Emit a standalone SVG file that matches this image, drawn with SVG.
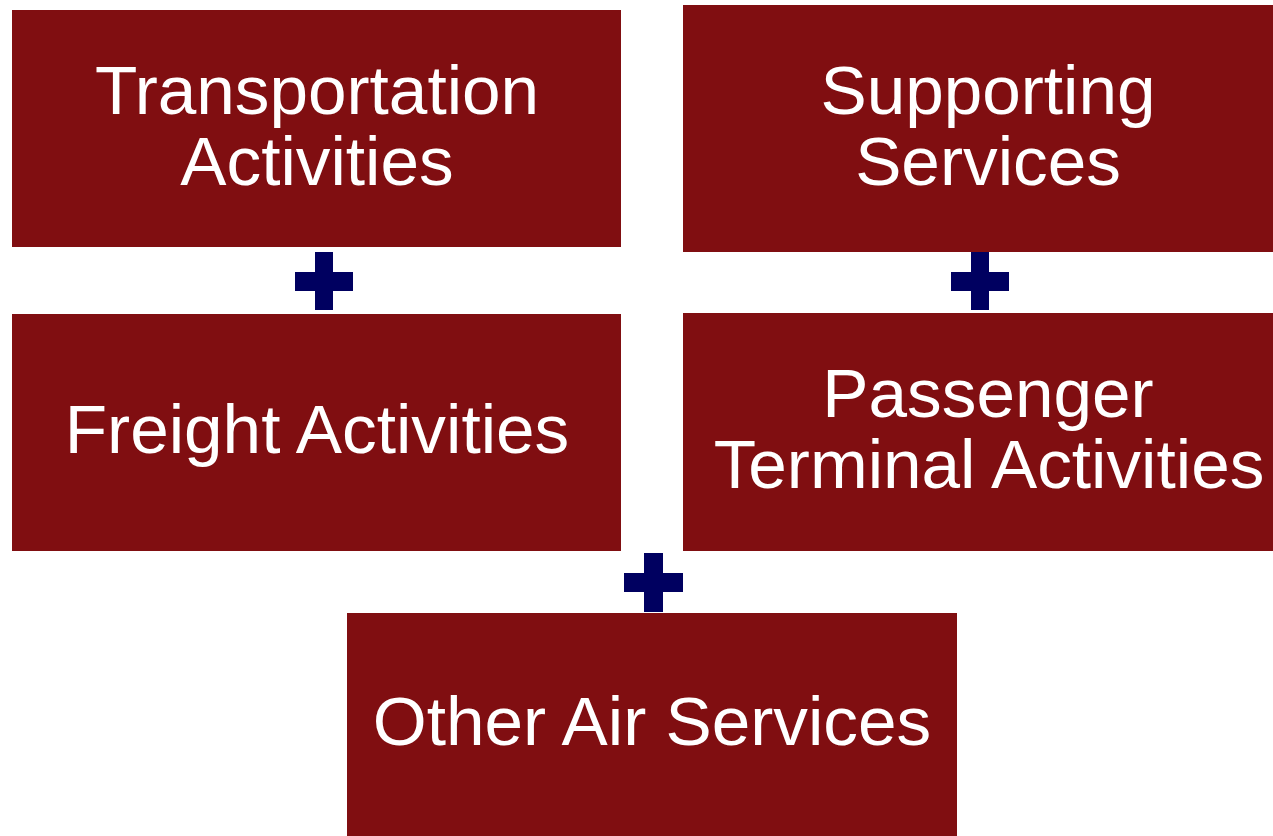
<svg xmlns="http://www.w3.org/2000/svg" width="1273" height="836" viewBox="0 0 1273 836">
<style>
.box{fill:#800E11}
.lbl{fill:#fff;font-family:"Liberation Sans",Arial,sans-serif;font-size:69.3px;text-anchor:middle}
.plus{fill:#000060}
</style>
<rect width="1273" height="836" fill="#fff"/>
<g id="transportation">
<rect class="box" x="12" y="10" width="609" height="237"/>
<text class="lbl" x="317" y="114">Transportation</text>
<text class="lbl" x="317" y="185">Activities</text>
</g>
<g id="supporting">
<rect class="box" x="683" y="5" width="590" height="247"/>
<text class="lbl" x="988" y="114">Supporting</text>
<text class="lbl" x="988" y="185">Services</text>
</g>
<g id="freight">
<rect class="box" x="12" y="314" width="609" height="237"/>
<text class="lbl" x="317" y="453">Freight Activities</text>
</g>
<g id="passenger">
<rect class="box" x="683" y="313" width="590" height="238"/>
<text class="lbl" x="988" y="417">Passenger</text>
<text class="lbl" x="989" y="488">Terminal Activities</text>
</g>
<g id="other">
<rect class="box" x="347" y="613" width="610" height="223"/>
<text class="lbl" x="652" y="745">Other Air Services</text>
</g>
<g id="connectors">
<path class="plus" d="M315 252h18v20h20v19h-20v19h-18v-19h-20v-19h20z"/>
<path class="plus" d="M971 252h18v20h20v19h-20v19h-18v-19h-20v-19h20z"/>
<path class="plus" d="M644 553h19v20h20v19h-20v20h-19v-20h-20v-19h20z"/>
</g>
</svg>
